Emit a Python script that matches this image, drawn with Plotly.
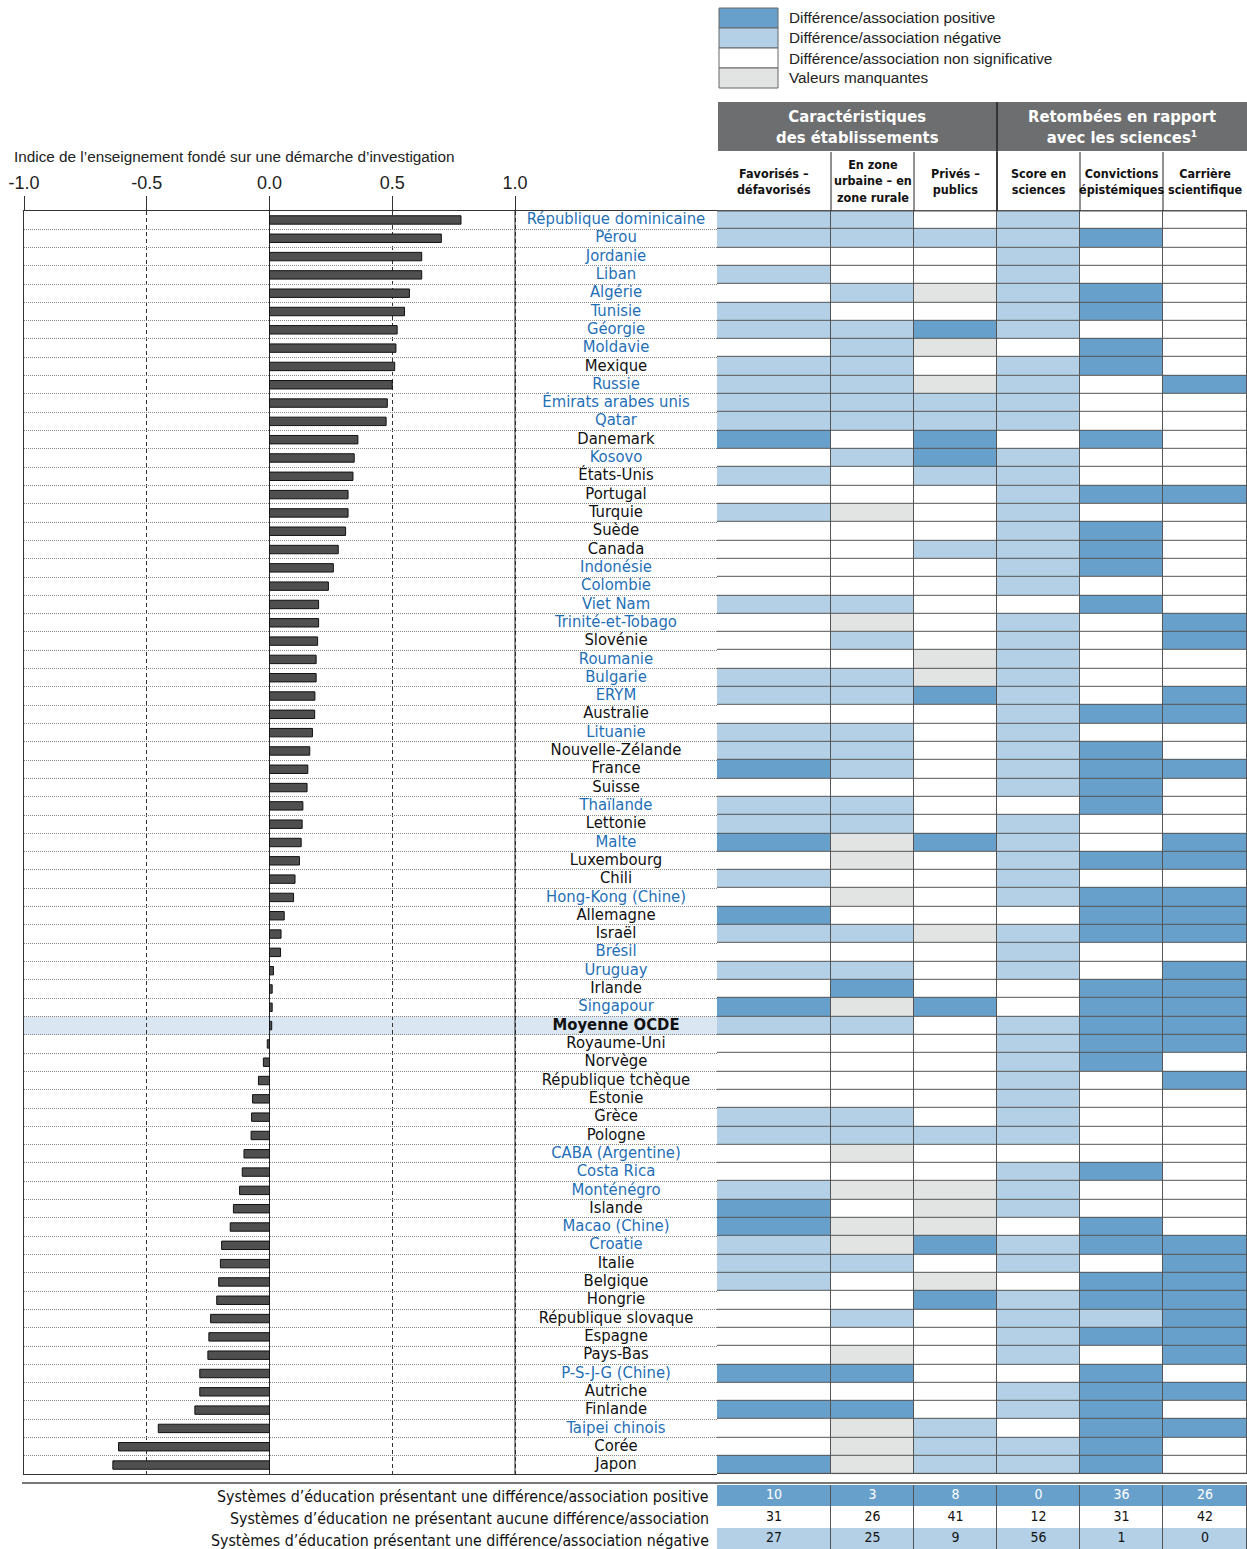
import plotly.graph_objects as go

W, H = 1247, 1549

# ---------------- data ----------------
countries = [
    "République dominicaine", "Pérou", "Jordanie", "Liban", "Algérie", "Tunisie", "Géorgie",
    "Moldavie", "Mexique", "Russie", "Émirats arabes unis", "Qatar", "Danemark", "Kosovo",
    "États-Unis", "Portugal", "Turquie", "Suède", "Canada", "Indonésie", "Colombie", "Viet Nam",
    "Trinité-et-Tobago", "Slovénie", "Roumanie", "Bulgarie", "ERYM", "Australie", "Lituanie",
    "Nouvelle-Zélande", "France", "Suisse", "Thaïlande", "Lettonie", "Malte", "Luxembourg",
    "Chili", "Hong-Kong (Chine)", "Allemagne", "Israël", "Brésil", "Uruguay", "Irlande",
    "Singapour", "Moyenne OCDE", "Royaume-Uni", "Norvège", "République tchèque", "Estonie",
    "Grèce", "Pologne", "CABA (Argentine)", "Costa Rica", "Monténégro", "Islande",
    "Macao (Chine)", "Croatie", "Italie", "Belgique", "Hongrie", "République slovaque",
    "Espagne", "Pays-Bas", "P-S-J-G (Chine)", "Autriche", "Finlande", "Taipei chinois",
    "Corée", "Japon",
]

partners = [
    "République dominicaine", "Pérou", "Jordanie", "Liban", "Algérie", "Tunisie", "Géorgie",
    "Moldavie", "Russie", "Émirats arabes unis", "Qatar", "Kosovo", "Indonésie", "Colombie",
    "Viet Nam", "Trinité-et-Tobago", "Roumanie", "Bulgarie", "ERYM", "Lituanie", "Thaïlande",
    "Malte", "Hong-Kong (Chine)", "Brésil", "Uruguay", "Singapour", "CABA (Argentine)",
    "Costa Rica", "Monténégro", "Macao (Chine)", "Croatie", "P-S-J-G (Chine)", "Taipei chinois",
]

inquiry_index = [
    0.78, 0.70, 0.62, 0.62, 0.57, 0.55, 0.52, 0.515, 0.51, 0.50, 0.48, 0.475, 0.36, 0.345,
    0.34, 0.32, 0.32, 0.31, 0.28, 0.26, 0.24, 0.20, 0.20, 0.196, 0.19, 0.19, 0.185, 0.184,
    0.175, 0.164, 0.156, 0.153, 0.136, 0.133, 0.129, 0.122, 0.104, 0.098, 0.060, 0.047,
    0.045, 0.016, 0.011, 0.011, 0.009, -0.009, -0.025, -0.045, -0.069, -0.073, -0.075,
    -0.104, -0.111, -0.122, -0.147, -0.160, -0.195, -0.200, -0.207, -0.215, -0.240, -0.247,
    -0.251, -0.284, -0.284, -0.304, -0.453, -0.615, -0.638,
]

# P = positive, N = negative, 0 = not significant, M = missing
# columns: favorisés, urbain/rural, privés/publics, score, convictions, carrière
cells = [
    "NN0N00", "NNNNP0", "000N00", "N00N00", "0NMNP0", "N00NP0", "NNPN00", "0NM0P0",
    "NN0NP0", "NNMN0P", "NNNN00", "NNNN00", "P0P0P0", "0NPN00", "N0NN00", "000NPP",
    "NM0N00", "000NP0", "00NNP0", "000NP0", "000N00", "NN00P0", "0M0N0P", "0N0N0P",
    "00MN00", "NNMN00", "NNPN0P", "000NPP", "NN0N00", "NN0NP0", "PN0NPP", "000NP0",
    "NN00P0", "NN0N00", "PMPN0P", "0M0NPP", "N00N00", "0M0NPP", "P000PP", "NNMNPP",
    "000N00", "NN0N0P", "0P00PP", "PMP0PP", "NN0NPP", "000NPP", "000NP0", "000N0P",
    "000N00", "NN0N00", "NNNN00", "0M0000", "000NP0", "NMMN00", "P0MN00", "PMM0P0",
    "NMPNPP", "NN0N0P", "N0M0PP", "00PNPP", "0N0NNP", "000NPP", "0M0N0P", "PP00P0",
    "000NPP", "PP0NP0", "0MN0PP", "0MNNP0", "PMNNP0",
]

col_headers = ["Favorisés –<br>défavorisés", "En zone<br>urbaine – en<br>zone rurale",
               "Privés –<br>publics", "Score en<br>sciences", "Convictions<br>épistémiques",
               "Carrière<br>scientifique"]
group_headers = ["Caractéristiques<br>des établissements", "Retombées en rapport<br>avec les sciences¹"]
legend_labels = ["Différence/association positive", "Différence/association négative",
                 "Différence/association non significative", "Valeurs manquantes"]
summary_labels = ["Systèmes d’éducation présentant une différence/association positive",
                  "Systèmes d’éducation ne présentant aucune différence/association",
                  "Systèmes d’éducation présentant une différence/association négative"]
count_pos = [10, 3, 8, 0, 36, 26]
count_none = [31, 26, 41, 12, 31, 42]
count_neg = [27, 25, 9, 56, 1, 0]

# ---------------- style / layout constants ----------------
C_POS, C_NEG, C_NS, C_MISS = "#68a0cc", "#b4d0e6", "#ffffff", "#e2e3e3"
CODE = {"P": 0, "N": 1, "0": 2, "M": 3}
BLUE_TXT = "#1f6fb6"
NARROW = "DejaVu Sans Condensed, sans-serif"
SANS = "Liberation Sans, Arial, sans-serif"

def px_x(p): return p / W
def px_y(p): return 1 - p / H

Y_TOP, Y_BOT = 210.8, 1474.2
X0, X_ONE, X_LAB_END = 24, 515, 717
UNIT = (X_ONE - X0) / 2.0
X_MAX = -1 + (X_LAB_END - X0) / UNIT
LABEL_X = -1 + (616 - X0) / UNIT
col_edges = [0, 114, 197, 280, 363, 446, 530]
col_centers = [(a + b) / 2 for a, b in zip(col_edges[:-1], col_edges[1:])]
n = len(countries)

fig = go.Figure()

fig.add_trace(go.Bar(y=countries, x=inquiry_index, orientation="h", width=0.46,
                     marker=dict(color="#4f4f4f", line=dict(color="#111", width=1)),
                     hoverinfo="skip"))

lab_text = ["<b>%s</b>" % c if c == "Moyenne OCDE" else c for c in countries]
lab_col = [BLUE_TXT if c in partners else "#111" for c in countries]
fig.add_trace(go.Scatter(y=countries, x=[LABEL_X] * n, mode="text", text=lab_text,
                         textfont=dict(color=lab_col, size=16.5, family=NARROW),
                         textposition="middle center", hoverinfo="skip"))

cscale = [[0, C_POS], [1 / 6, C_POS], [1 / 6, C_NEG], [0.5, C_NEG],
          [0.5, C_NS], [5 / 6, C_NS], [5 / 6, C_MISS], [1, C_MISS]]
z = [[CODE[ch] for ch in row] for row in cells]
fig.add_trace(go.Heatmap(x=col_edges, y=countries, z=z, xaxis="x2", yaxis="y2",
                         colorscale=cscale, zmin=0, zmax=3, showscale=False,
                         xgap=1, ygap=1, hoverinfo="skip"))

# summary table
z_sum = [[0] * 6, [2] * 6, [1] * 6]
fig.add_trace(go.Heatmap(x=col_edges, y=[0, 1, 2], z=z_sum, xaxis="x3", yaxis="y3",
                         colorscale=cscale, zmin=0, zmax=3, showscale=False,
                         xgap=1, ygap=0, hoverinfo="skip"))
sx, sy, st, sc = [], [], [], []
for r, counts in enumerate([count_pos, count_none, count_neg]):
    for j, v in enumerate(counts):
        sx.append(col_centers[j]); sy.append(r); st.append(str(v))
        sc.append("white" if r == 0 else "#111")
fig.add_trace(go.Scatter(x=sx, y=sy, text=st, mode="text", xaxis="x3", yaxis="y3",
                         textfont=dict(color=sc, size=14, family=NARROW), hoverinfo="skip"))

shapes = []
oecd = countries.index("Moyenne OCDE")
shapes.append(dict(type="rect", xref="x", yref="y", x0=-1, x1=X_MAX, y0=oecd - 0.5, y1=oecd + 0.5,
                   fillcolor="#dae6f1", line=dict(width=0), layer="below"))
shapes.append(dict(type="line", xref="x", yref="paper", x0=1, x1=1, y0=px_y(Y_BOT), y1=px_y(Y_TOP),
                   line=dict(color="#222", width=1)))
shapes.append(dict(type="rect", xref="x2", yref="y2", x0=0, x1=530, y0=-0.5, y1=n - 0.5,
                   fillcolor="#555", line=dict(width=0), layer="below"))
shapes.append(dict(type="rect", xref="x3", yref="y3", x0=0, x1=530, y0=-0.5, y1=2.5,
                   fillcolor="#555", line=dict(width=0), layer="below"))
shapes.append(dict(type="line", xref="paper", yref="paper", x0=px_x(717), x1=1,
                   y0=px_y(Y_TOP), y1=px_y(Y_TOP), line=dict(color="#555", width=1.5)))
# header boxes
shapes.append(dict(type="rect", xref="paper", yref="paper", x0=px_x(718), x1=px_x(997),
                   y0=px_y(151), y1=px_y(102), fillcolor="#6d6e70", line=dict(width=0)))
shapes.append(dict(type="rect", xref="paper", yref="paper", x0=px_x(997), x1=1,
                   y0=px_y(151), y1=px_y(102), fillcolor="#6d6e70", line=dict(width=0)))
shapes.append(dict(type="line", xref="paper", yref="paper", x0=px_x(997), x1=px_x(997),
                   y0=px_y(Y_TOP), y1=px_y(102), line=dict(color="#222", width=1.5)))
for e in col_edges[1:-1]:
    xp = px_x(717 + e)
    shapes.append(dict(type="line", xref="paper", yref="paper", x0=xp, x1=xp,
                       y0=px_y(Y_TOP), y1=px_y(152), line=dict(color="#222", width=1)))
# summary top rule
shapes.append(dict(type="line", xref="paper", yref="paper", x0=px_x(22), x1=1,
                   y0=px_y(1483), y1=px_y(1483), line=dict(color="#777", width=2)))
# legend boxes
for i, c in enumerate([C_POS, C_NEG, C_NS, C_MISS]):
    shapes.append(dict(type="rect", xref="paper", yref="paper", x0=px_x(719), x1=px_x(778),
                       y0=px_y(8 + 20 * (i + 1)), y1=px_y(8 + 20 * i), fillcolor=c,
                       line=dict(color="#666", width=1)))

ann = []
ann.append(dict(text="Indice de l’enseignement fondé sur une démarche d’investigation",
                x=px_x(12), y=px_y(157), xref="paper", yref="paper", xanchor="left",
                yanchor="middle", showarrow=False, font=dict(size=15.3, family=SANS, color="#222")))
for i, t in enumerate(legend_labels):
    ann.append(dict(text=t, x=px_x(787), y=px_y(18 + 20 * i), xref="paper", yref="paper",
                    xanchor="left", yanchor="middle", showarrow=False,
                    font=dict(size=15.3, family=SANS, color="#222")))
for t, cx in zip(group_headers, [857, 1122]):
    ann.append(dict(text="<b>%s</b>" % t, x=px_x(cx), y=px_y(127), xref="paper", yref="paper",
                    xanchor="center", yanchor="middle", showarrow=False,
                    font=dict(size=16.5, family=NARROW, color="white")))
for t, cx in zip(col_headers, col_centers):
    ann.append(dict(text="<b>%s</b>" % t, x=px_x(717 + cx), y=px_y(181), xref="paper",
                    yref="paper", xanchor="center", yanchor="middle", showarrow=False,
                    font=dict(size=12.5, family=NARROW, color="#111")))
for i, t in enumerate(summary_labels):
    ann.append(dict(text=t, x=px_x(711), y=px_y(1496 + 22 * i), xref="paper", yref="paper",
                    xanchor="right", yanchor="middle", showarrow=False,
                    font=dict(size=15.8, family=NARROW, color="#111")))

dom_main = [px_y(Y_BOT), px_y(Y_TOP)]
fig.update_layout(
    width=W, height=H, margin=dict(l=0, r=0, t=0, b=0, autoexpand=False),
    paper_bgcolor="white", plot_bgcolor="white", showlegend=False,
    shapes=shapes, annotations=ann,
    xaxis=dict(domain=[px_x(X0), px_x(X_LAB_END)], range=[-1, X_MAX], side="top", anchor="y",
               tickvals=[-1, -0.5, 0, 0.5, 1], ticktext=["-1.0", "-0.5", "0.0", "0.5", "1.0"],
               ticks="outside", ticklen=14, tickcolor="#333",
               tickfont=dict(size=18, family=SANS, color="#222"),
               showgrid=True, gridcolor="#333", griddash="4px,3px", gridwidth=1,
               zeroline=True, zerolinecolor="#222", zerolinewidth=1, automargin=False,
               showline=True, linecolor="#333", linewidth=1, mirror=True),
    yaxis=dict(domain=dom_main, type="category", categoryorder="array", categoryarray=countries,
               range=[n - 0.5, -0.5], tickson="boundaries", showgrid=True, gridcolor="#888",
               griddash="1px,1px", gridwidth=1, showticklabels=False, ticks="", anchor="x",
               showline=True, linecolor="#333", linewidth=1, automargin=False),
    xaxis2=dict(domain=[px_x(X_LAB_END), 1], range=[0, 530], visible=False, anchor="y2",
                automargin=False),
    yaxis2=dict(domain=dom_main, type="category", categoryorder="array", categoryarray=countries,
                range=[n - 0.5, -0.5], visible=False, anchor="x2", automargin=False),
    xaxis3=dict(domain=[px_x(X_LAB_END), 1], range=[0, 530], visible=False, anchor="y3",
                automargin=False),
    yaxis3=dict(domain=[0, px_y(1485)], range=[2.5, -0.5], visible=False, anchor="x3",
                automargin=False),
)

fig.write_html("out.html", config={"displayModeBar": False},
               post_script="document.body.style.margin='0';")
